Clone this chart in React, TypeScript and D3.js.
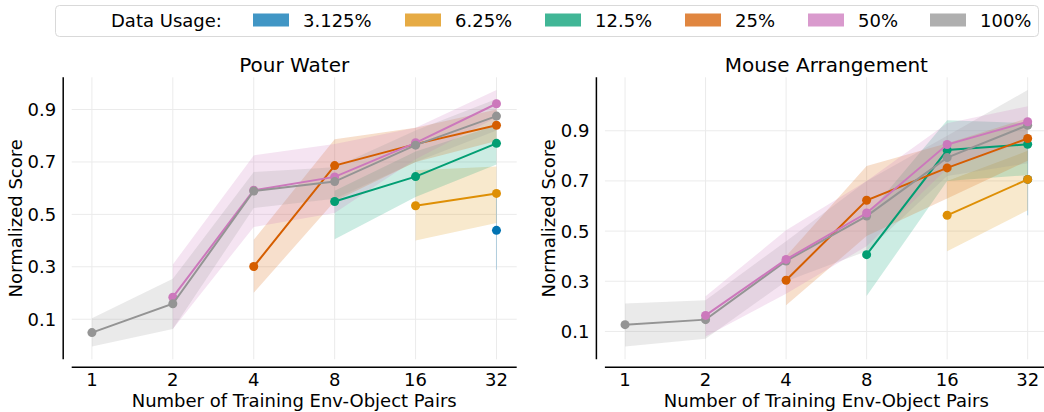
import React from "react";
import * as d3 from "d3";

const N = null;

const xLabels = ["1", "2", "4", "8", "16", "32"];
const usage = ["3.125%", "6.25%", "12.5%", "25%", "50%", "100%"];
const colors = ["#0173b2", "#de8f05", "#029e73", "#d55e00", "#cc78bc", "#949494"];
const yTicks = [0.1, 0.3, 0.5, 0.7, 0.9];

// Pour Water: mean and band per data usage (rows follow `usage`)
const pourMean = [
  [N, N, N, N, N, 0.439],
  [N, N, N, N, 0.533, 0.58],
  [N, N, N, 0.549, 0.644, 0.771],
  [N, N, 0.301, 0.686, 0.768, 0.84],
  [N, 0.184, 0.592, 0.643, 0.773, 0.922],
  [0.049, 0.159, 0.589, 0.625, 0.764, 0.875],
];
const pourLo = [
  [N, N, N, N, N, 0.289],
  [N, N, N, N, 0.4, 0.467],
  [N, N, N, 0.405, 0.566, 0.69],
  [N, N, 0.201, 0.55, 0.7, 0.78],
  [N, 0.063, 0.452, 0.505, 0.71, 0.87],
  [-0.004, 0.063, 0.524, 0.56, 0.7, 0.82],
];
const pourHi = [
  [N, N, N, N, N, 0.59],
  [N, N, N, N, 0.668, 0.683],
  [N, N, N, 0.59, 0.74, 0.84],
  [N, N, 0.403, 0.787, 0.83, 0.9],
  [N, 0.309, 0.725, 0.768, 0.83, 0.974],
  [0.104, 0.254, 0.662, 0.68, 0.82, 0.94],
];

// Mouse Arrangement
const mouseMean = [
  [N, N, N, N, N, 0.706],
  [N, N, N, N, 0.563, 0.706],
  [N, N, N, 0.406, 0.823, 0.846],
  [N, N, 0.304, 0.623, 0.752, 0.869],
  [N, 0.164, 0.387, 0.572, 0.845, 0.936],
  [0.127, 0.147, 0.381, 0.56, 0.793, 0.922],
];
const mouseLo = [
  [N, N, N, N, N, 0.563],
  [N, N, N, N, 0.42, 0.583],
  [N, N, N, 0.241, 0.7, 0.723],
  [N, N, 0.204, 0.48, 0.63, 0.78],
  [N, 0.08, 0.25, 0.44, 0.75, 0.86],
  [0.04, 0.071, 0.3, 0.42, 0.72, 0.77],
];
const mouseHi = [
  [N, N, N, N, N, 0.85],
  [N, N, N, N, 0.7, 0.82],
  [N, N, N, 0.56, 0.942, 0.93],
  [N, N, 0.4, 0.759, 0.85, 0.95],
  [N, 0.24, 0.503, 0.7, 0.93, 0.998],
  [0.211, 0.224, 0.46, 0.7, 0.88, 1.062],
];

const FONT = "DejaVu Sans, sans-serif";

type Num = number | null;

const Panel = ({ title, left, right, mean, lo, hi, order }: {
  title: string; left: number; right: number;
  mean: Num[][]; lo: Num[][]; hi: Num[][]; order: number[];
}) => {
  const top = 77.3;
  const bottom = 359.3;
  const x = d3.scaleLinear().domain([-0.25, 5.25]).range([left, right]);
  const all = [...lo.flat(), ...hi.flat()].filter((v) => v !== null) as number[];
  const [mn, mx] = d3.extent(all) as [number, number];
  const pad = (mx - mn) * 0.05;
  const y = d3.scaleLinear().domain([mn - pad, mx + pad]).range([bottom, top]);
  const spineX = left - 8.5;
  const spineY = bottom + 8;

  const area = d3.area<[number, Num, Num]>()
    .defined((d) => d[1] !== null)
    .x((d) => x(d[0]))
    .y0((d) => y(d[1] as number))
    .y1((d) => y(d[2] as number));
  const line = d3.line<[number, Num]>()
    .defined((d) => d[1] !== null)
    .x((d) => x(d[0]))
    .y((d) => y(d[1] as number));

  return (
    <g>
      <defs>
        <clipPath id={`clip-${left}`}>
          <rect x={left} y={top} width={right - left} height={bottom - top} />
        </clipPath>
      </defs>
      {xLabels.map((_, i) => (
        <line key={"gx" + i} x1={x(i)} x2={x(i)} y1={top} y2={bottom} stroke="#ebebeb" strokeWidth={1} />
      ))}
      {yTicks.map((t) => (
        <line key={"gy" + t} x1={left} x2={right} y1={y(t)} y2={y(t)} stroke="#ebebeb" strokeWidth={1} />
      ))}
      <g clipPath={`url(#clip-${left})`}>
        {order.map((s) => {
          const pts = mean[s].map((m, i) => [i, lo[s][i], hi[s][i]] as [number, Num, Num]);
          const defined = pts.filter((p) => p[1] !== null);
          if (defined.length === 1) {
            const p = defined[0];
            return (
              <line key={"b" + s} x1={x(p[0])} x2={x(p[0])} y1={y(p[1] as number)} y2={y(p[2] as number)}
                stroke={colors[s]} strokeOpacity={0.25} strokeWidth={1} />
            );
          }
          return <path key={"b" + s} d={area(pts) || ""} fill={colors[s]} fillOpacity={0.2} />;
        })}
        {order.map((s) => {
          const pts = mean[s].map((m, i) => [i, m] as [number, Num]);
          return (
            <g key={"l" + s}>
              <path d={line(pts) || ""} fill="none" stroke={colors[s]} strokeWidth={2} />
              {pts.filter((p) => p[1] !== null).map((p) => (
                <circle key={p[0]} cx={x(p[0])} cy={y(p[1] as number)} r={4.5} fill={colors[s]} />
              ))}
            </g>
          );
        })}
      </g>
      <line x1={spineX} x2={spineX} y1={top} y2={bottom} stroke="#000" strokeWidth={1.5} />
      <line x1={left} x2={right} y1={spineY} y2={spineY} stroke="#000" strokeWidth={1.5} />
      {yTicks.map((t) => (
        <text key={"ty" + t} x={spineX - 7} y={y(t)} dy="0.36em" textAnchor="end" fontSize={18} fontFamily={FONT}>
          {t.toFixed(1)}
        </text>
      ))}
      {xLabels.map((l, i) => (
        <text key={"tx" + i} x={x(i)} y={385.5} textAnchor="middle" fontSize={18} fontFamily={FONT}>{l}</text>
      ))}
      <text x={(left + right) / 2} y={406.5} textAnchor="middle" fontSize={18} fontFamily={FONT}>
        Number of Training Env-Object Pairs
      </text>
      <text transform={`translate(${left - 50},${(top + bottom) / 2}) rotate(-90)`} textAnchor="middle"
        fontSize={18} fontFamily={FONT}>
        Normalized Score
      </text>
      <text x={(left + right) / 2} y={71.5} textAnchor="middle" fontSize={20} fontFamily={FONT}>{title}</text>
    </g>
  );
};

const legendPatchX = [253, 405, 545, 685, 808, 930];

const App = () => (
  <svg width={1044} height={412} style={{ position: "absolute", left: 0, top: 0, background: "#fff" }}>
    <Panel title="Pour Water" left={71.7} right={516.7} mean={pourMean} lo={pourLo} hi={pourHi} order={[0, 1, 2, 3, 4, 5]} />
    <Panel title="Mouse Arrangement" left={604.9} right={1047.8} mean={mouseMean} lo={mouseLo} hi={mouseHi} order={[0, 1, 2, 3, 5, 4]} />
    <g>
      <rect x={55.5} y={5.5} width={983} height={31} rx={4} fill="#fff" stroke="#d9d9d9" strokeWidth={1} />
      <text x={111} y={27} fontSize={18} fontFamily={FONT}>Data Usage:</text>
      {usage.map((u, i) => (
        <g key={u}>
          <rect x={legendPatchX[i]} y={13.5} width={36} height={13} fill={colors[i]} fillOpacity={0.75} />
          <text x={legendPatchX[i] + 50} y={27} fontSize={18} fontFamily={FONT}>{u}</text>
        </g>
      ))}
    </g>
  </svg>
);

export default App;
